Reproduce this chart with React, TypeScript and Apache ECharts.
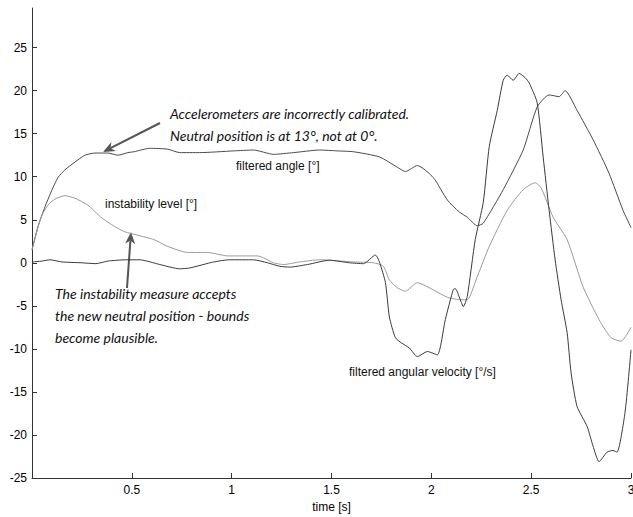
import React, { useEffect, useRef } from "react";
import * as echarts from "echarts";

const angleT = [0, 0.03, 0.065, 0.095, 0.13, 0.165, 0.215, 0.265, 0.315, 0.38, 0.43, 0.48, 0.51, 0.59, 0.68, 0.74, 0.84, 1.01, 1.11, 1.21, 1.31, 1.44, 1.53, 1.61, 1.74, 1.83, 1.87, 1.93, 2.01, 2.08, 2.14, 2.18, 2.23, 2.26, 2.36, 2.46, 2.53, 2.59, 2.64, 2.67, 2.73, 2.81, 2.89, 2.96, 3.0];
const angleV = [1.5, 4.2, 6.5, 8.2, 9.9, 10.8, 11.7, 12.5, 12.75, 12.75, 12.5, 12.8, 12.9, 13.3, 13.2, 12.8, 12.8, 13.0, 13.1, 12.6, 12.8, 13.1, 13.0, 12.9, 12.3, 11.1, 10.6, 11.3, 9.9, 7.3, 5.9, 5.3, 4.3, 4.6, 8.5, 13.1, 18.1, 19.5, 19.3, 20.0, 17.7, 14.3, 10.4, 6.1, 4.1];

const instT = [0, 0.045, 0.08, 0.115, 0.165, 0.215, 0.28, 0.345, 0.415, 0.465, 0.53, 0.61, 0.68, 0.78, 0.88, 0.98, 1.13, 1.21, 1.26, 1.34, 1.44, 1.61, 1.71, 1.76, 1.79, 1.83, 1.87, 1.93, 1.99, 2.08, 2.15, 2.18, 2.23, 2.29, 2.38, 2.46, 2.52, 2.55, 2.61, 2.68, 2.76, 2.84, 2.9, 2.95, 3.0];
const instV = [1.5, 5.3, 6.7, 7.4, 7.8, 7.5, 6.7, 5.3, 4.2, 3.6, 3.2, 2.7, 1.9, 1.2, 1.2, 0.8, 0.8, 0.0, -0.2, 0.1, 0.35, 0.1, 0.0, -0.4, -2.0, -2.9, -3.3, -2.3, -2.9, -4.0, -4.3, -4.3, -1.6, 1.9, 6.1, 8.5, 9.3, 8.7, 5.3, 2.7, -2.8, -6.6, -8.7, -9.1, -7.5];

const velT = [0, 0.05, 0.09, 0.15, 0.25, 0.32, 0.38, 0.47, 0.54, 0.64, 0.74, 0.79, 0.91, 0.99, 1.11, 1.18, 1.24, 1.29, 1.38, 1.49, 1.59, 1.66, 1.72, 1.74, 1.77, 1.79, 1.82, 1.85, 1.89, 1.93, 1.98, 2.03, 2.07, 2.11, 2.12, 2.15, 2.16, 2.18, 2.22, 2.26, 2.29, 2.33, 2.36, 2.38, 2.41, 2.44, 2.47, 2.49, 2.53, 2.56, 2.59, 2.62, 2.65, 2.68, 2.7, 2.73, 2.78, 2.81, 2.84, 2.88, 2.91, 2.93, 2.97, 3.0];
const velV = [0.1, 0.2, 0.35, 0.1, 0.0, -0.1, 0.2, 0.35, 0.35, -0.2, -0.7, -0.6, 0.1, 0.35, 0.35, 0.0, -0.4, -0.5, -0.2, 0.3, 0.0, -0.1, 0.9, 0.1, -2.3, -6.3, -8.7, -9.3, -9.9, -10.9, -10.3, -10.7, -6.6, -3.1, -3.0, -4.6, -5.1, -3.9, 2.7, 7.0, 13.5, 17.7, 21.2, 21.8, 21.2, 22.0, 21.5, 20.9, 18.6, 12.3, 6.1, 0.35, -4.3, -8.1, -12.8, -16.7, -19.0, -21.3, -23.1, -22.0, -21.8, -22.0, -17.4, -10.1];

const xTicks = [0.5, 1, 1.5, 2, 2.5, 3];
const yTicks = [-25, -20, -15, -10, -5, 0, 5, 10, 15, 20, 25];

const pairs = (t: number[], v: number[]) => t.map((x, i) => [x, v[i]]);

function arrow(x1: number, y1: number, x2: number, y2: number, color: string) {
  const dx = x2 - x1, dy = y2 - y1;
  const len = Math.hypot(dx, dy);
  const ux = dx / len, uy = dy / len;
  const nx = -uy, ny = ux;
  const hl = 12, hw = 5;
  const bx = x2 - ux * hl, by = y2 - uy * hl;
  const mx = x2 - ux * (hl * 0.7), my = y2 - uy * (hl * 0.7);
  return [
    { type: "line", shape: { x1, y1, x2: mx, y2: my }, style: { stroke: color, lineWidth: 2 } },
    {
      type: "polygon",
      shape: { points: [[x2, y2], [bx + nx * hw, by + ny * hw], [mx, my], [bx - nx * hw, by - ny * hw]] },
      style: { fill: color },
    },
  ];
}

export default function App() {
  const ref = useRef<HTMLDivElement>(null);
  useEffect(() => {
    document.body.style.margin = "0";
    const chart = echarts.init(ref.current!, undefined, { renderer: "svg" });
    const lab = { fontFamily: "Liberation Sans, Arial, sans-serif", fontSize: 12, color: "#000" };
    const note = { fontFamily: "Lato, Open Sans, sans-serif", fontStyle: "italic", fontSize: 14, fill: "#111" };
    const lbl = { fontFamily: "Liberation Sans, Arial, sans-serif", fontSize: 12, fill: "#111" };
    chart.setOption({
      animation: false,
      backgroundColor: "#fff",
      grid: { left: 32, right: 2, top: 8, bottom: 39, containLabel: false, outerBoundsMode: "none" },
      xAxis: {
        type: "value",
        min: 0,
        max: 3,
        interval: 0.5,
        name: "time [s]",
        nameLocation: "middle",
        nameGap: 22,
        nameTextStyle: lab,
        axisLine: { onZero: false, lineStyle: { color: "#333", width: 1 } },
        axisTick: { inside: true, length: 5, customValues: xTicks, lineStyle: { color: "#333" } },
        axisLabel: { ...lab, margin: 6, customValues: xTicks },
        splitLine: { show: false },
      },
      yAxis: {
        type: "value",
        min: -25,
        max: 29.6,
        interval: 5,
        axisLine: { show: true, onZero: false, lineStyle: { color: "#333", width: 1 } },
        axisTick: { show: true, inside: true, length: 5, customValues: yTicks, lineStyle: { color: "#333" } },
        axisLabel: { ...lab, margin: 5, customValues: yTicks },
        splitLine: { show: false },
      },
      series: [
        { type: "line", data: pairs(angleT, angleV), showSymbol: false, smooth: 0.2, lineStyle: { color: "#4a4a4a", width: 1 } },
        { type: "line", data: pairs(instT, instV), showSymbol: false, smooth: 0.2, lineStyle: { color: "#9a9a9a", width: 1 } },
        { type: "line", data: pairs(velT, velV), showSymbol: false, smooth: 0.2, lineStyle: { color: "#3a3a3a", width: 1 } },
      ],
      graphic: [
        ...arrow(160, 123, 103, 152, "#555"),
        ...arrow(127, 288, 131, 232, "#555"),
        { type: "text", left: 170, top: 106, style: { ...note, text: "Accelerometers are incorrectly calibrated." } },
        { type: "text", left: 170, top: 128, style: { ...note, text: "Neutral position is at 13°, not at 0°." } },
        { type: "text", left: 55, top: 286, style: { ...note, text: "The instability measure accepts" } },
        { type: "text", left: 55, top: 308, style: { ...note, text: "the new neutral position - bounds" } },
        { type: "text", left: 55, top: 330, style: { ...note, text: "become plausible." } },
        { type: "text", left: 236, top: 160, style: { ...lbl, text: "filtered angle [°]" } },
        { type: "text", left: 105, top: 198, style: { ...lbl, text: "instability level [°]" } },
        { type: "text", left: 349, top: 366, style: { ...lbl, text: "filtered angular velocity [°/s]" } },
      ],
    });
    return () => chart.dispose();
  }, []);
  return <div ref={ref} style={{ width: 633, height: 517, background: "#fff" }} />;
}
